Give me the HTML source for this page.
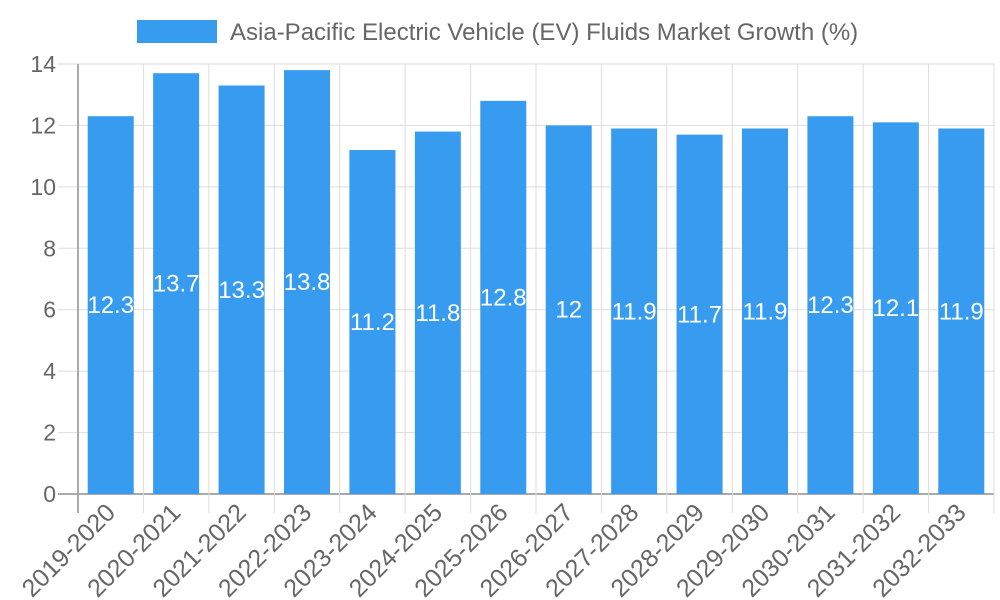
<!DOCTYPE html>
<html><head><meta charset="utf-8"><style>body{margin:0;background:#fff}svg{display:block}</style></head>
<body>
<svg id="chart" width="1000" height="600" xmlns="http://www.w3.org/2000/svg" font-family="Liberation Sans, sans-serif"></svg>
<script>
const categories=["2019-2020","2020-2021","2021-2022","2022-2023","2023-2024","2024-2025","2025-2026","2026-2027","2027-2028","2028-2029","2029-2030","2030-2031","2031-2032","2032-2033"];
const values=[12.3,13.7,13.3,13.8,11.2,11.8,12.8,12,11.9,11.7,11.9,12.3,12.1,11.9];
const yTicks=[0,2,4,6,8,10,12,14];
const NS="http://www.w3.org/2000/svg";
const svg=document.getElementById('chart');
const L=78,R=994,T=64,B=494,yMax=14;
const step=(R-L)/categories.length;
function y(v){return B-(v/yMax)*(B-T);}
function x(i){return L+i*step;}
function mk(t,a,p){const e=document.createElementNS(NS,t);for(const k in a)e.setAttribute(k,a[k]);(p||svg).appendChild(e);return e;}
const lg=mk('g',{});


mk('rect',{x:137,y:20,width:80,height:23,fill:'#379cf0'},lg);
const lt=mk('text',{x:230,y:40,'font-size':24,fill:'#666'},lg);lt.textContent="Asia-Pacific Electric Vehicle (EV) Fluids Market Growth (%)";
yTicks.forEach(v=>{
 const g=mk('line',{x1:58,x2:R,y1:y(v),y2:y(v),stroke:v===0?'#aaa':'#ddd','stroke-width':v===0?2:1});
 
 
 const t=mk('text',{x:56,y:y(v)+8,'font-size':23,fill:'#666','text-anchor':'end'});t.textContent=v;
 
 
});
for(let i=0;i<=categories.length;i++){
 const g=mk('line',{x1:x(i),x2:x(i),y1:T,y2:513,stroke:i===0?'#aaa':'#ddd','stroke-width':i===0?2:1});
 
 
}
categories.forEach((c,i)=>{
 const cx=x(i)+step/2,bw=46,v=values[i];
 const r=mk('rect',{x:cx-bw/2,y:y(v),width:bw,height:B-y(v),fill:'#379cf0'});
 
 
 const vt=mk('text',{x:cx,y:(y(v)+B)/2+8,'font-size':24,fill:'#fff','text-anchor':'middle'});vt.textContent=v;
 
 
 const t=mk('text',{x:cx+6,y:514,'font-size':25,fill:'#666','text-anchor':'end',transform:`rotate(-45 ${cx+6} 514)`});t.textContent=c;
 
 
});
</script>
</body></html>
